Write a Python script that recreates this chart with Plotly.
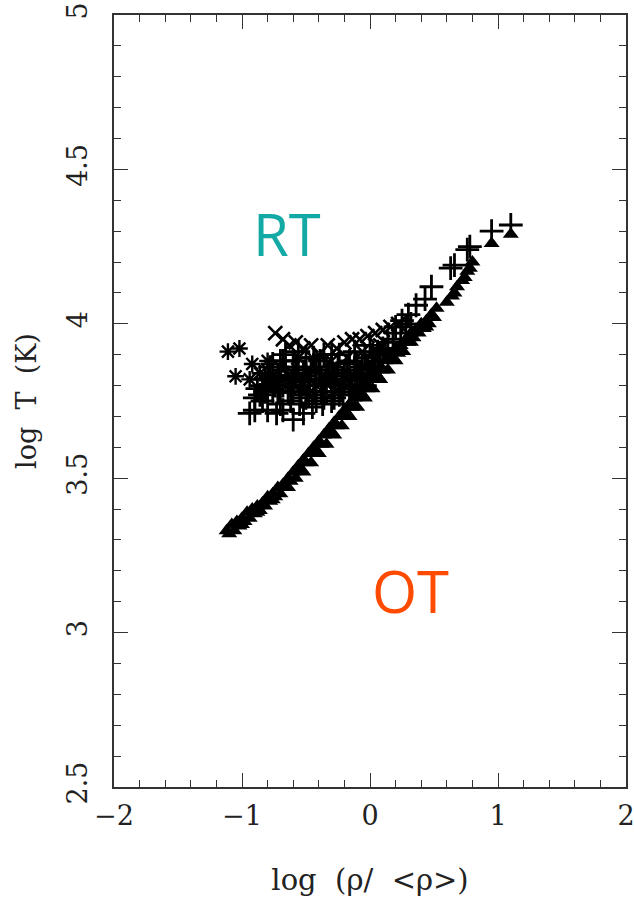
import plotly.graph_objects as go

# Triangles (filled) along lower sequence
tri_x = [-1.12, -1.08, -1.04, -1.00, -0.96, -0.92, -0.88, -0.84, -0.80, -0.76, -0.72, -0.68, -0.64, -0.60,
         -0.56, -0.52, -0.48, -0.44, -0.40, -0.36, -0.32, -0.28, -0.24, -0.20, -0.16, -0.12, -0.08, -0.04,
         0.00, 0.04, 0.08, 0.12, 0.16, 0.20, 0.24, 0.28, 0.32, 0.36, 0.40, 0.44, 0.48, 0.52,
         -1.06, -1.00, -0.94, -0.88, -0.82, -0.76, -0.70, -0.64, -0.58, -0.52, -0.46, -0.40, -0.34, -0.28,
         -0.22, -0.16, -0.10, -0.04, 0.02, 0.08, 0.14, 0.20, 0.26, 0.32, 0.38, 0.44,
         -1.10, -1.02, -0.98, -0.90, -0.86, -0.78, -0.74, -0.66, -0.62, -0.54, -0.50, -0.42, -0.38, -0.30,
         -0.26, -0.18, -0.14, -0.06, -0.02, 0.06, 0.10, 0.18, 0.22, 0.30, 0.34, 0.42, 0.46, 0.50,
         0.60, 0.64, 0.66, 0.68, 0.72, 0.74, 0.76, 0.78, 0.80, 0.95, 1.10]
tri_y = [3.33, 3.35, 3.36, 3.37, 3.39, 3.40, 3.41, 3.42, 3.44, 3.45, 3.47, 3.48, 3.50, 3.52,
         3.54, 3.56, 3.58, 3.60, 3.62, 3.64, 3.66, 3.68, 3.70, 3.72, 3.74, 3.76, 3.78, 3.80,
         3.82, 3.84, 3.86, 3.88, 3.90, 3.92, 3.93, 3.95, 3.97, 3.98, 4.00, 4.01, 4.03, 4.05,
         3.33, 3.35, 3.37, 3.39, 3.41, 3.43, 3.45, 3.47, 3.50, 3.52, 3.55, 3.58, 3.61, 3.64,
         3.67, 3.70, 3.73, 3.76, 3.79, 3.82, 3.85, 3.88, 3.91, 3.94, 3.97, 3.99,
         3.32, 3.345, 3.36, 3.385, 3.395, 3.425, 3.44, 3.47, 3.49, 3.53, 3.55, 3.59, 3.61, 3.65,
         3.67, 3.71, 3.73, 3.77, 3.79, 3.83, 3.85, 3.89, 3.905, 3.94, 3.955, 3.985, 4.00, 4.02,
         4.07, 4.09, 4.10, 4.12, 4.14, 4.15, 4.17, 4.18, 4.20, 4.26, 4.29]

# Plus markers
plus_x = [1.10, 0.95, 0.78, 0.76, 0.66, 0.63, 0.48, 0.43, 0.36, 0.30, 0.25, 0.20,
          -0.94, -0.90, -0.80, -0.73, -0.68, -0.60, -0.52, -0.45, -0.37, -0.30, -0.21, -0.12,
          -0.84, -0.80, -0.76, -0.72, -0.68, -0.64, -0.60, -0.56, -0.52, -0.48, -0.46, -0.40,
          -0.38, -0.34, -0.30, -0.26, -0.24, -0.18, -0.14, -0.10, -0.06, -0.02, 0.02, 0.06,
          0.10, 0.14, 0.18, -0.90, -0.84, -0.70, -0.62, -0.55, -0.50, -0.42, -0.36, -0.28,
          -0.08, 0.00,
          -0.88, -0.82, -0.78, -0.74, -0.70, -0.66, -0.62, -0.58, -0.54, -0.50, -0.47, -0.43,
          -0.39, -0.36, -0.32, -0.28, -0.25, -0.22, -0.16, -0.12, -0.08, -0.04, 0.04, 0.08,
          0.12, -0.66, -0.60, -0.50, -0.36, -0.24, -0.12, 0.00, 0.24, 0.28, 0.32,
          -0.86, -0.80, -0.76, -0.72, -0.68, -0.64, -0.60, -0.58, -0.54, -0.52, -0.48, -0.44,
          -0.42, -0.38, -0.34, -0.30, -0.28, -0.22, -0.20, -0.16, -0.10, -0.06, -0.02, 0.02,
          0.06, -0.70, -0.56, -0.44, -0.30, -0.16, -0.04, -0.76, -0.82]
plus_y = [4.32, 4.30, 4.25, 4.24, 4.19, 4.18, 4.12, 4.08, 4.06, 4.03, 4.01, 3.99,
          3.71, 3.72, 3.72, 3.71, 3.72, 3.69, 3.71, 3.73, 3.74, 3.75, 3.74, 3.77,
          3.80, 3.84, 3.78, 3.83, 3.88, 3.82, 3.78, 3.86, 3.81, 3.77, 3.86, 3.84,
          3.78, 3.86, 3.81, 3.84, 3.77, 3.85, 3.80, 3.87, 3.82, 3.86, 3.90, 3.88,
          3.92, 3.94, 3.95, 3.76, 3.75, 3.74, 3.75, 3.74, 3.76, 3.75, 3.76, 3.76,
          3.79, 3.84,
          3.79, 3.82, 3.86, 3.80, 3.82, 3.85, 3.80, 3.83, 3.77, 3.85, 3.80, 3.82,
          3.88, 3.80, 3.84, 3.80, 3.87, 3.82, 3.78, 3.85, 3.84, 3.80, 3.86, 3.90,
          3.91, 3.90, 3.88, 3.89, 3.90, 3.90, 3.91, 3.93, 3.97, 3.99, 4.00,
          3.77, 3.79, 3.83, 3.78, 3.80, 3.78, 3.82, 3.86, 3.80, 3.84, 3.82, 3.78,
          3.85, 3.82, 3.78, 3.86, 3.83, 3.79, 3.84, 3.82, 3.80, 3.86, 3.83, 3.85,
          3.91, 3.88, 3.91, 3.89, 3.90, 3.88, 3.89, 3.87, 3.78]

# Cross (x) markers
xm_x = [-0.74, -0.68, -0.63, -0.58, -0.52, -0.46, -0.40, -0.33, -0.26, -0.20, -0.14, -0.08,
        -0.02, 0.04, 0.10, 0.16, 0.22, -0.56, -0.44, -0.30, -0.18, -0.06, 0.08]
xm_y = [3.97, 3.95, 3.93, 3.94, 3.92, 3.93, 3.90, 3.93, 3.92, 3.94, 3.95, 3.95,
        3.96, 3.97, 3.98, 3.99, 4.00, 3.89, 3.87, 3.88, 3.89, 3.91, 3.93]

# Asterisk markers
ast_x = [-1.11, -1.02, -1.05, -0.92, -0.94, -0.86, -0.80, -0.78, -0.70, -0.66, -0.60, -0.55,
         -0.48, -0.42, -0.35, -0.28, -0.20, -0.12]
ast_y = [3.91, 3.92, 3.83, 3.87, 3.82, 3.84, 3.88, 3.81, 3.86, 3.80, 3.84, 3.79,
         3.83, 3.80, 3.82, 3.78, 3.80, 3.83]

x_ticks = [-2, -1, 0, 1, 2]
y_ticks = [2.5, 3, 3.5, 4, 4.5, 5]

fig = go.Figure()
fig.add_trace(go.Scatter(x=tri_x, y=tri_y, mode="markers",
                         marker=dict(symbol="triangle-up", size=14, color="black",
                                     line=dict(width=0))))
fig.add_trace(go.Scatter(x=plus_x, y=plus_y, mode="markers",
                         marker=dict(symbol="cross-thin-open", size=17, color="black",
                                     line=dict(width=2.8, color="black"))))
fig.add_trace(go.Scatter(x=xm_x, y=xm_y, mode="markers",
                         marker=dict(symbol="x-thin-open", size=14, color="black",
                                     line=dict(width=2.6, color="black"))))
fig.add_trace(go.Scatter(x=ast_x, y=ast_y, mode="markers",
                         marker=dict(symbol="asterisk-open", size=14, color="black",
                                     line=dict(width=2.4, color="black"))))

serif = "DejaVu Serif"
fig.update_xaxes(range=[-2, 2], tickvals=x_ticks, ticks="inside", ticklen=14, tickwidth=1.2,
                 tickcolor="#333", showline=True, linecolor="#333", linewidth=1.5, mirror="allticks",
                 showgrid=False, zeroline=False, ticklabelstandoff=4, automargin=False,
                 ticklabeloverflow="allow",
                 minor=dict(dtick=0.2, ticks="inside", ticklen=7, tickcolor="#333", tickwidth=1.2),
                 tickfont=dict(family=serif, size=27, color="#222"),
                 title=dict(text="log  (ρ/  &lt;ρ&gt;)", font=dict(family=serif, size=29, color="#222"),
                            standoff=40))
fig.update_yaxes(range=[2.5, 5], tickvals=y_ticks, ticks="inside", ticklen=14, tickwidth=1.2,
                 tickcolor="#333", showline=True, linecolor="#333", linewidth=1.5, mirror="allticks",
                 showgrid=False, zeroline=False, tickangle=-90, ticklabelstandoff=14, automargin=False,
                 ticklabeloverflow="allow",
                 minor=dict(dtick=0.1, ticks="inside", ticklen=7, tickcolor="#333", tickwidth=1.2),
                 tickfont=dict(family=serif, size=27, color="#222"),
                 title=dict(text="log  T  (K)", font=dict(family=serif, size=27, color="#222"),
                            standoff=18))

fig.add_annotation(x=-0.648, y=4.294, text="RT", showarrow=False,
                   font=dict(family="Open Sans", size=58, color="#13a9a5"))
fig.add_annotation(x=0.3125, y=3.135, text="OT", showarrow=False,
                   font=dict(family="Open Sans", size=58, color="#ff4b00"))

fig.update_layout(width=634, height=903, margin=dict(l=114, r=8, t=15, b=116),
                  plot_bgcolor="white", paper_bgcolor="white", showlegend=False)

fig.write_html("out.html")
